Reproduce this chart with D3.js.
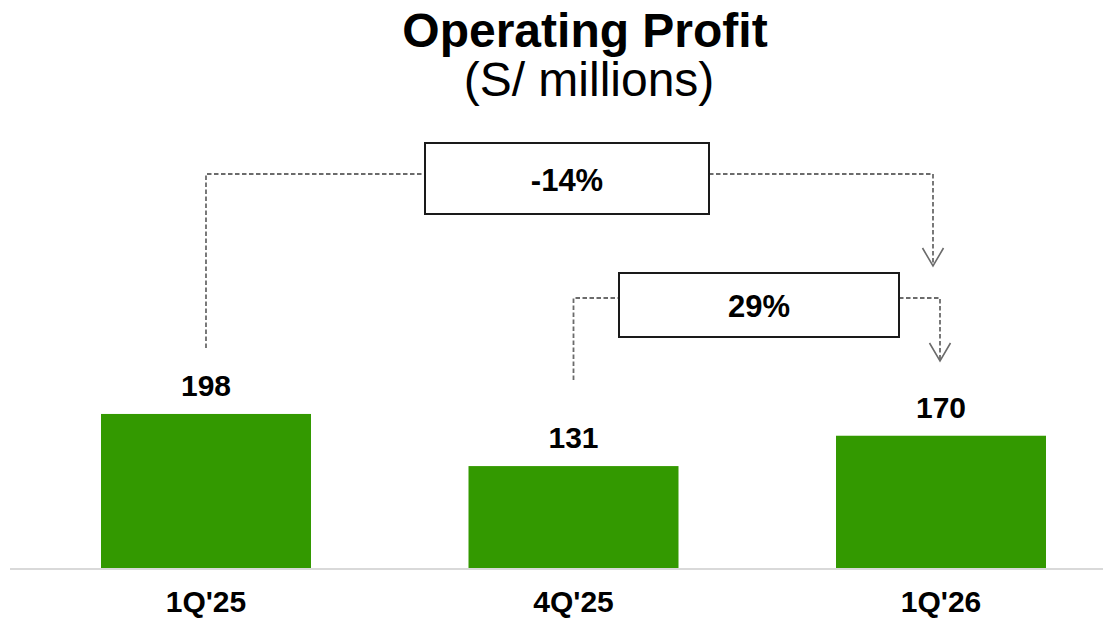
<!DOCTYPE html>
<html>
<head>
<meta charset="utf-8">
<script src="https://cdn.jsdelivr.net/npm/d3@7/dist/d3.min.js"></script>
<style>
  html, body { margin: 0; padding: 0; background: #fff; }
  svg { display: block; font-family: 'Liberation Sans', Arial, sans-serif; }
</style>
</head>
<body>
<svg id="chart" width="1103" height="619"></svg>
<script>
const categories = ["1Q'25", "4Q'25", "1Q'26"]
const values = [198, 131, 170]
const changeLabels = ['-14%', '29%']
// from -> to index pairs for the change brackets
const changeFrom = [0, 1]
const changeTo = [2, 2]

const width = 1103
const height = 619
const baseY = 568

const svg = d3.select('#chart')

const x = d3.scaleBand()
  .domain(categories)
  .range([101, 1046])
  .paddingInner(0.4286)
  .paddingOuter(0)

const y = d3.scaleLinear()
  .domain([0, 250])
  .range([baseY, baseY - 194.5])

const cx = d => x(d) + x.bandwidth() / 2

// Title
svg.append('text')
  .attr('x', 585).attr('y', 47)
  .attr('text-anchor', 'middle')
  .attr('font-size', 48).attr('font-weight', 700)
  .attr('fill', '#000')
  .text('Operating Profit')

svg.append('text')
  .attr('x', 589).attr('y', 96)
  .attr('text-anchor', 'middle')
  .attr('font-size', 48)
  .attr('fill', '#000')
  .text('(S/ millions)')

// Baseline
svg.append('line')
  .attr('x1', 10).attr('x2', width)
  .attr('y1', baseY + 1).attr('y2', baseY + 1)
  .attr('stroke', '#d9d9d9')
  .attr('stroke-width', 2)

// Bars
svg.append('g')
  .selectAll('rect')
  .data(values)
  .join('rect')
  .attr('x', (d, i) => x(categories[i]))
  .attr('y', d => y(d))
  .attr('width', x.bandwidth())
  .attr('height', d => baseY - y(d))
  .attr('fill', '#339900')

// Value labels
svg.append('g')
  .selectAll('text')
  .data(values)
  .join('text')
  .attr('x', (d, i) => cx(categories[i]))
  .attr('y', d => y(d) - 18)
  .attr('text-anchor', 'middle')
  .attr('font-size', 30).attr('font-weight', 700)
  .attr('fill', '#000')
  .text(d => d)

// Category labels
svg.append('g')
  .selectAll('text')
  .data(categories)
  .join('text')
  .attr('x', d => cx(d))
  .attr('y', 612)
  .attr('text-anchor', 'middle')
  .attr('font-size', 30).attr('font-weight', 700)
  .attr('fill', '#000')
  .text(d => d)

// Change brackets
const defs = svg.append('defs')
defs.append('marker')
  .attr('id', 'open-arrow')
  .attr('viewBox', '-2 -2 25 22')
  .attr('refX', 10.5).attr('refY', 18)
  .attr('markerWidth', 25).attr('markerHeight', 22)
  .attr('markerUnits', 'userSpaceOnUse')
  .attr('orient', '0')
  .append('path')
  .attr('d', 'M0,0 L10.5,18 L21,0')
  .attr('fill', 'none')
  .attr('stroke', '#6b6b6b')
  .attr('stroke-width', 1.6)

const brackets = [
  { lineY: 174, boxX: 425, boxW: 284, boxY: 143, boxH: 71, startY: 348, endX: 933, endY: 266 },
  { lineY: 298, boxX: 619, boxW: 280, boxY: 273, boxH: 64, startY: 380, endX: 940, endY: 361 }
]

brackets.forEach((b, i) => {
  const sx = cx(categories[changeFrom[i]])
  const g = svg.append('g')
  const dash = { stroke: '#6b6b6b', 'stroke-width': 1.8, 'stroke-dasharray': '4.5,2.5', fill: 'none' }
  const left = g.append('path')
    .attr('d', `M${sx},${b.startY} V${b.lineY} H${b.boxX}`)
  const right = g.append('path')
    .attr('d', `M${b.boxX + b.boxW},${b.lineY} H${b.endX} V${b.endY}`)
    .attr('marker-end', 'url(#open-arrow)')
  Object.entries(dash).forEach(([k, v]) => { left.attr(k, v); right.attr(k, v) })

  g.append('rect')
    .attr('x', b.boxX).attr('y', b.boxY)
    .attr('width', b.boxW).attr('height', b.boxH)
    .attr('fill', '#fff')
    .attr('stroke', '#1a1a1a')
    .attr('stroke-width', 2)

  g.append('text')
    .attr('x', b.boxX + b.boxW / 2)
    .attr('y', b.boxY + b.boxH / 2 + 12)
    .attr('text-anchor', 'middle')
    .attr('font-size', 31).attr('font-weight', 700)
    .attr('fill', '#000')
    .text(changeLabels[i])
})
</script>
</body>
</html>
